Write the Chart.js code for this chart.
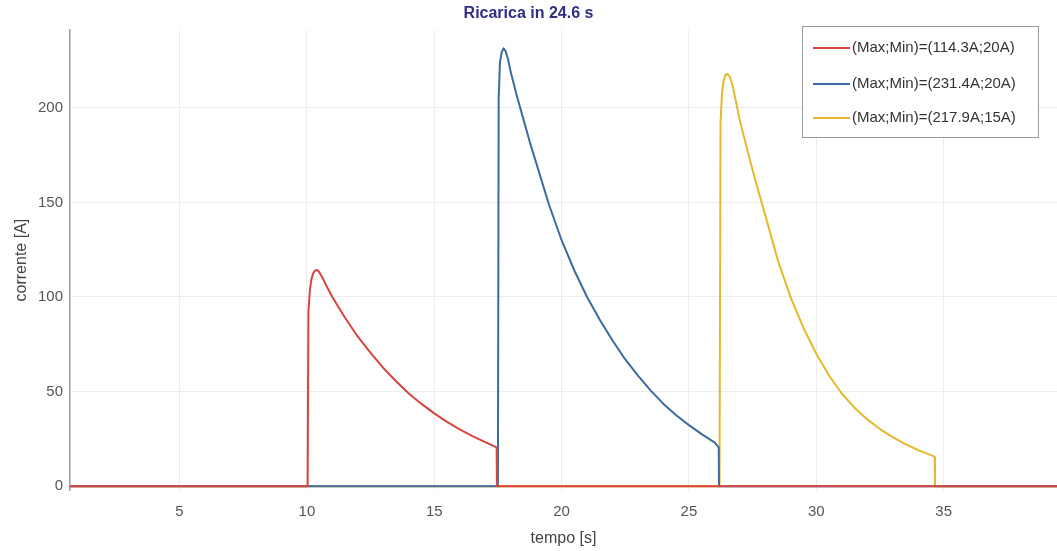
<!DOCTYPE html>
<html>
<head>
<meta charset="utf-8">
<title>Ricarica in 24.6 s</title>
<script src="https://cdn.jsdelivr.net/npm/chart.js@4.4.1/dist/chart.umd.min.js"></script>
<style>
  body { margin: 0; background: #fff; }
  canvas { display: block; }
</style>
</head>
<body>
<canvas id="myChart" width="1057" height="551"></canvas>
<script>
// values: tempo [s] / corrente [A]
const redT = [0.7, 10.03, 10.06, 10.12, 10.18, 10.25, 10.31, 10.38, 10.47, 10.6, 10.8, 11.0, 11.25, 11.5, 11.75, 12.0, 12.5, 13.0, 13.5, 14.0, 14.5, 15.0, 15.5, 16.0, 16.5, 17.0, 17.45, 17.46, 39.45];
const redI = [0, 0, 92, 104, 109.5, 112.5, 113.8, 114.3, 113.5, 110.5, 105, 100, 94.5, 89, 84, 79, 70.5, 62.5, 55.5, 49, 43.5, 38.5, 34, 30, 26.5, 23.3, 20.5, 0, 0];

const blueT = [0.7, 17.5, 17.53, 17.58, 17.65, 17.72, 17.8, 17.9, 18.0, 18.25, 18.5, 18.75, 19.0, 19.5, 20.0, 20.5, 21.0, 21.5, 22.0, 22.5, 23.0, 23.5, 24.0, 24.5, 25.0, 25.5, 26.0, 26.17, 26.18, 39.45];
const blueI = [0, 0, 205, 224, 229.5, 231.4, 230, 225.5, 219, 206, 194, 182, 171, 149, 130, 114, 100, 88, 77, 67, 58.5, 50.5, 43.5, 37.5, 32.3, 27.5, 23.2, 20.5, 0, 0];

const yellowT = [0.7, 26.2, 26.24, 26.3, 26.35, 26.42, 26.51, 26.6, 26.7, 26.85, 27.0, 27.25, 27.5, 27.75, 28.0, 28.5, 29.0, 29.5, 30.0, 30.5, 31.0, 31.5, 32.0, 32.5, 33.0, 33.5, 34.0, 34.5, 34.65, 34.66, 39.45];
const yellowI = [0, 0, 192, 208, 213.5, 217, 217.9, 216.5, 212.5, 203, 193, 180, 167, 155, 143, 119, 99.5, 83.5, 70, 58.5, 49, 41.5, 35.3, 30.2, 25.9, 22.2, 19.1, 16.4, 15.5, 0, 0];

const seriesLabels = ['(Max;Min)=(114.3A;20A)', '(Max;Min)=(231.4A;20A)', '(Max;Min)=(217.9A;15A)'];
const seriesColors = ['#d6453f', '#3d6b9e', '#e6b82e'];

const xTicks = [5, 10, 15, 20, 25, 30, 35];
const yTicks = [0, 50, 100, 150, 200];

const FONT = 'Liberation Sans, Arial, Helvetica, sans-serif';

function toPoints(t, v) {
    let pts = [];
    for (let i = 0; i < t.length; i++) {
        pts.push({ x: t[i], y: v[i] });
    }
    return pts;
}

// legend box drawn inside the plot, top right
const boxLegend = {
    id: 'boxLegend',
    afterDraw(chart) {
        const c = chart.ctx;
        const x0 = 802, y0 = 26, w = 236, h = 111;
        c.save();
        c.fillStyle = '#fff';
        c.fillRect(x0, y0, w, h);
        c.strokeStyle = '#9a9a9a';
        c.lineWidth = 1;
        c.strokeRect(x0 + 0.5, y0 + 0.5, w, h);
        const rows = [48, 84, 118];
        chart.data.datasets.forEach((ds, i) => {
            c.strokeStyle = ds.borderColor;
            c.lineWidth = 2;
            c.beginPath();
            c.moveTo(813, rows[i]);
            c.lineTo(850, rows[i]);
            c.stroke();
            c.fillStyle = '#333';
            c.font = '15px ' + FONT;
            c.textBaseline = 'middle';
            c.textAlign = 'left';
            c.fillText(ds.label, 852, rows[i]);
        });
        c.restore();
    }
};

const ctx = document.getElementById('myChart').getContext('2d');

new Chart(ctx, {
    type: 'line',
    data: {
        datasets: [
            { label: seriesLabels[0], data: toPoints(redT, redI), borderColor: seriesColors[0] },
            { label: seriesLabels[1], data: toPoints(blueT, blueI), borderColor: seriesColors[1] },
            { label: seriesLabels[2], data: toPoints(yellowT, yellowI), borderColor: seriesColors[2] }
        ]
    },
    options: {
        responsive: false,
        animation: false,
        parsing: false,
        elements: {
            point: { radius: 0 },
            line: { borderWidth: 2, tension: 0, fill: false, borderJoinStyle: 'round' }
        },
        layout: { padding: { left: 0, right: 0, top: 0, bottom: 0 } },
        plugins: {
            legend: { display: false },
            tooltip: { enabled: false },
            title: {
                display: true,
                text: 'Ricarica in 24.6 s',
                color: '#2e2e86',
                font: { family: FONT, size: 16, weight: 'bold' },
                padding: { top: 4, bottom: 7 }
            }
        },
        scales: {
            x: {
                type: 'linear',
                min: 0.7,
                max: 39.45,
                afterBuildTicks: (scale) => { scale.ticks = xTicks.map(v => ({ value: v })); },
                afterFit: (scale) => { scale.height = 61; },
                grid: { color: '#ececec', drawTicks: false },
                border: { display: false },
                ticks: { color: '#555', padding: 13, font: { family: FONT, size: 15 } },
                title: {
                    display: true,
                    text: 'tempo [s]',
                    color: '#444',
                    font: { family: FONT, size: 16 },
                    padding: { top: 4, bottom: 3 }
                }
            },
            y: {
                type: 'linear',
                min: -2,
                max: 241,
                afterBuildTicks: (scale) => { scale.ticks = yTicks.map(v => ({ value: v })); },
                afterFit: (scale) => { scale.width = 70; },
                grid: { color: '#ececec', drawTicks: false },
                border: { display: true, color: '#9a9a9a', width: 1.5 },
                ticks: { color: '#555', padding: 7, font: { family: FONT, size: 15 } },
                title: {
                    display: true,
                    text: 'corrente [A]',
                    color: '#444',
                    font: { family: FONT, size: 16 },
                    padding: { top: 12, bottom: 0 }
                }
            }
        }
    },
    plugins: [boxLegend]
});
</script>
</body>
</html>
